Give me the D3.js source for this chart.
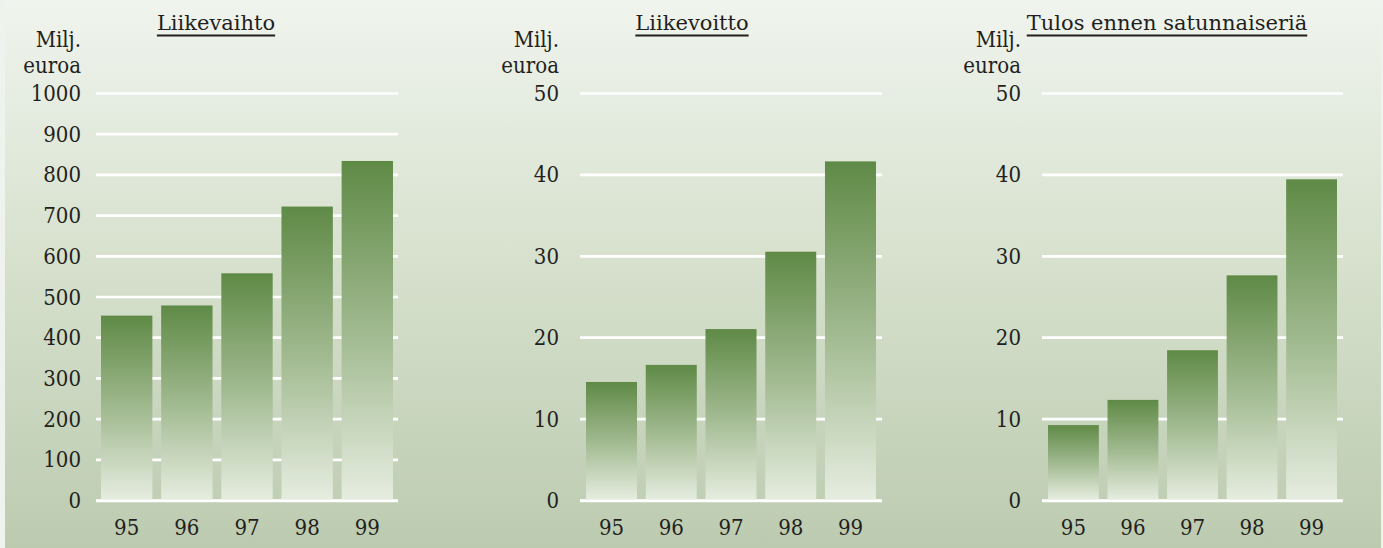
<!DOCTYPE html>
<html>
<head>
<meta charset="utf-8">
<script src="https://cdn.jsdelivr.net/npm/d3@7"></script>
<style>
html,body{margin:0;padding:0;background:#eef3ed;}
svg{display:block;}
</style>
</head>
<body>
<script>
// ---- data ----
const years = ["95", "96", "97", "98", "99"];
const liikevaihto = [453, 478, 557, 721, 833];
const liikevoitto = [14.5, 16.6, 21.0, 30.5, 41.6];
const tulosEnnen = [9.2, 12.3, 18.4, 27.6, 39.4];
const ticks1 = [0, 100, 200, 300, 400, 500, 600, 700, 800, 900, 1000];
const ticks2 = [0, 10, 20, 30, 40, 50];
const titles = ["Liikevaihto", "Liikevoitto", "Tulos ennen satunnaiseriä"];
const unitLines = ["Milj.", "euroa"];

const W = 1383, H = 548;
const FONT = "'DejaVu Serif', serif";
const FONT_C = "'DejaVu Serif Condensed', 'DejaVu Serif', serif";
const svg = d3.select("body").append("svg").attr("width", W).attr("height", H)
  .attr("font-family", FONT).style("font-family", FONT);
const defs = svg.append("defs");

const bg = defs.append("linearGradient").attr("id", "bg").attr("x1", 0).attr("y1", 0).attr("x2", 0).attr("y2", 1);
bg.append("stop").attr("offset", "0%").attr("stop-color", "#f0f4ee");
bg.append("stop").attr("offset", "45%").attr("stop-color", "#d8e2cf");
bg.append("stop").attr("offset", "100%").attr("stop-color", "#bccbb0");

const bar = defs.append("linearGradient").attr("id", "bar").attr("x1", 0).attr("y1", 0).attr("x2", 0).attr("y2", 1);
bar.append("stop").attr("offset", "0%").attr("stop-color", "#5f8a46");
bar.append("stop").attr("offset", "50%").attr("stop-color", "#a0b98f");
bar.append("stop").attr("offset", "100%").attr("stop-color", "#e6ede0");

svg.append("rect").attr("x", 5).attr("y", 0).attr("width", W - 7).attr("height", H).attr("fill", "url(#bg)");

const FS = 22;
const y0 = 500, yTop = 93;

function panel(cfg) {
  const g = svg.append("g").attr("fill", "#231f20");
  const x = d3.scaleBand().domain(years).range([cfg.gx0 + cfg.inset, cfg.gx1 - cfg.inset]).paddingInner(0.146).paddingOuter(0);
  const y = d3.scaleLinear().domain([0, d3.max(cfg.ticks)]).range([y0, yTop]);

  g.selectAll("line.grid").data(cfg.ticks).join("line")
    .attr("x1", cfg.gx0).attr("x2", cfg.gx1)
    .attr("y1", d => y(d) + 0.5).attr("y2", d => y(d) + 0.5)
    .attr("stroke", "#ffffff").attr("stroke-width", 2.7);

  g.selectAll("rect.bar").data(cfg.values).join("rect")
    .attr("x", (d, i) => x(years[i])).attr("width", x.bandwidth())
    .attr("y", d => y(d)).attr("height", d => y(0) - y(d))
    .attr("fill", "url(#bar)");

  g.append("line").attr("x1", cfg.gx0).attr("x2", cfg.gx1)
    .attr("y1", y(0) + 1).attr("y2", y(0) + 1)
    .attr("stroke", "#ffffff").attr("stroke-width", 2.7);

  g.selectAll("text.yt").data(cfg.ticks).join("text")
    .attr("x", cfg.labelRight).attr("y", d => y(d) + 8)
    .attr("text-anchor", "end").attr("font-size", FS).style("font-family", FONT_C).text(d => d);

  g.selectAll("text.xt").data(years).join("text")
    .attr("x", d => x(d) + x.bandwidth() / 2).attr("y", 535)
    .attr("text-anchor", "middle").attr("font-size", FS).style("font-family", FONT_C).text(d => d);

  g.selectAll("text.unit").data(unitLines).join("text")
    .attr("x", cfg.labelRight).attr("y", (d, i) => 47 + i * 26)
    .attr("text-anchor", "end").attr("font-size", FS).style("font-family", FONT_C).text(d => d);

  const t = g.append("text").attr("x", cfg.titleX).attr("y", 30)
    .attr("text-anchor", "middle").attr("font-size", 21).text(cfg.title);
  const bb = t.node().getBBox();
  g.append("line").attr("x1", bb.x).attr("x2", bb.x + bb.width)
    .attr("y1", 35.5).attr("y2", 35.5).attr("stroke", "#231f20").attr("stroke-width", 2);
}

panel({ values: liikevaihto, ticks: ticks1, gx0: 96, gx1: 398, inset: 5, labelRight: 81, titleX: 216, title: titles[0] });
panel({ values: liikevoitto, ticks: ticks2, gx0: 580, gx1: 882, inset: 6, labelRight: 559, titleX: 692, title: titles[1] });
panel({ values: tulosEnnen, ticks: ticks2, gx0: 1042, gx1: 1343, inset: 6, labelRight: 1021, titleX: 1167, title: titles[2] });
</script>
</body>
</html>
